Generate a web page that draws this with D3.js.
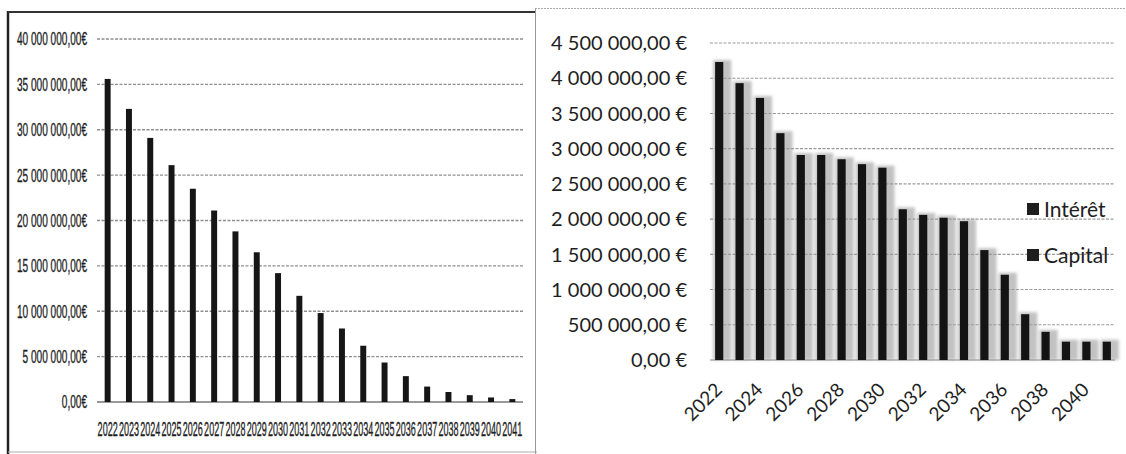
<!DOCTYPE html>
<html>
<head>
<meta charset="utf-8">
<script src="https://cdn.jsdelivr.net/npm/d3@7"></script>
<style>
  html, body { margin: 0; padding: 0; background: #fff; }
  svg { display: block; }
</style>
</head>
<body>
<svg id="chart" width="1126" height="454"></svg>
<script>
// Years of the loan schedule
const years = ["2022","2023","2024","2025","2026","2027","2028","2029","2030","2031",
               "2032","2033","2034","2035","2036","2037","2038","2039","2040","2041"];

// Left panel: outstanding capital per year (€)
const outstandingCapital = [35600000, 32300000, 29100000, 26100000, 23500000, 21100000,
                            18800000, 16500000, 14200000, 11700000, 9800000, 8100000,
                            6200000, 4350000, 2850000, 1700000, 1100000, 750000, 500000, 320000];

// Right panel: yearly repayment (€)
const yearlyRepayment = [4230000, 3930000, 3720000, 3220000, 2910000, 2910000, 2850000,
                         2780000, 2730000, 2140000, 2060000, 2020000, 1970000, 1560000,
                         1210000, 650000, 400000, 260000, 260000, 260000];

const leftTicks  = [0, 5000000, 10000000, 15000000, 20000000, 25000000, 30000000, 35000000, 40000000];
const rightTicks = [0, 500000, 1000000, 1500000, 2000000, 2500000, 3000000, 3500000, 4000000, 4500000];
const rightYearLabels = ["2022","2024","2026","2028","2030","2032","2034","2036","2038","2040"];
const legendLabels = ["Intérêt", "Capital"];

const fr = d3.formatLocale({ decimal: ",", thousands: "\u00a0", grouping: [3], currency: ["", " €"] });
const money = fr.format(",.2f");

const svg = d3.select("#chart");

const defs = svg.append("defs");
defs.append("filter").attr("id", "halo").attr("x", "-50%").attr("y", "-10%").attr("width", "200%").attr("height", "120%")
  .append("feGaussianBlur").attr("stdDeviation", 1.8);

/* ---------------- Left panel ---------------- */
const L = svg.append("g");

// frame
L.append("line").attr("x1", 8).attr("x2", 8).attr("y1", 11).attr("y2", 454).attr("stroke", "#222").attr("stroke-width", 2.5);
L.append("line").attr("x1", 8).attr("x2", 536).attr("y1", 12).attr("y2", 12).attr("stroke", "#333").attr("stroke-width", 2);
L.append("line").attr("x1", 8).attr("x2", 537).attr("y1", 452).attr("y2", 452).attr("stroke", "#aaa").attr("stroke-width", 1);

const xL = d3.scaleBand().domain(years).range([97, 523]).paddingInner(0.72).paddingOuter(0.36);
const yL = d3.scaleLinear().domain([0, 40000000]).range([402, 39]);

// gridlines
L.append("g").selectAll("line").data(leftTicks).join("line")
  .attr("x1", 97).attr("x2", 523)
  .attr("y1", d => yL(d)).attr("y2", d => yL(d))
  .attr("stroke", d => d === 0 ? "#777" : "#8f8f8f")
  .attr("stroke-width", 1.3)
  .attr("stroke-dasharray", d => d === 0 ? null : "3,1.5");

// y labels (horizontally condensed)
L.append("g").selectAll("text").data(leftTicks).join("text")
  .attr("transform", d => `translate(87,${yL(d)}) scale(0.56,1)`)
  .attr("text-anchor", "end").attr("dy", "0.36em")
  .attr("font-family", "Liberation Sans, sans-serif")
  .attr("font-size", 18).attr("fill", "#1e1e1e")
  .attr("stroke", "#1e1e1e").attr("stroke-width", 0.35)
  .text(d => money(d) + "€");

// bars
L.append("g").selectAll("rect").data(outstandingCapital).join("rect")
  .attr("x", (d, i) => xL(years[i]))
  .attr("width", xL.bandwidth())
  .attr("y", d => yL(d))
  .attr("height", d => yL(0) - yL(d))
  .attr("fill", "#161616");

// x labels (condensed, packed side by side)
L.append("g").selectAll("text").data(years).join("text")
  .attr("transform", d => `translate(${xL(d) + xL.bandwidth() / 2},436) scale(0.43,1)`)
  .attr("text-anchor", "middle")
  .attr("font-family", "Liberation Sans, sans-serif")
  .attr("font-size", 21).attr("fill", "#1e1e1e")
  .attr("stroke", "#1e1e1e").attr("stroke-width", 0.35)
  .text(d => d);

/* ---------------- Right panel ---------------- */
const R = svg.append("g");

R.append("line").attr("x1", 535.5).attr("x2", 535.5).attr("y1", 9).attr("y2", 454).attr("stroke", "#999").attr("stroke-width", 1);
R.append("line").attr("x1", 535).attr("x2", 1126).attr("y1", 8.5).attr("y2", 8.5)
  .attr("stroke", "#aaa").attr("stroke-width", 1).attr("stroke-dasharray", "2,1");

const xR = d3.scaleBand().domain(years).range([709, 1117]).paddingInner(0.6).paddingOuter(0.3);
const yR = d3.scaleLinear().domain([0, 4500000]).range([360, 43]);

// soft shadow behind the bars
R.append("g").attr("filter", "url(#halo)").selectAll("rect").data(yearlyRepayment).join("rect")
  .attr("x", (d, i) => xR(years[i]) - 2)
  .attr("width", xR.bandwidth() + 10)
  .attr("y", d => yR(d) - 2)
  .attr("height", d => yR(0) - yR(d) + 2)
  .attr("fill", "#c2c2c2");

// gridlines
R.append("g").selectAll("line").data(rightTicks).join("line")
  .attr("x1", 710).attr("x2", 1115)
  .attr("y1", d => yR(d)).attr("y2", d => yR(d))
  .attr("stroke", d => d === 0 ? "#888" : "#9a9a9a")
  .attr("stroke-width", 1.1)
  .attr("stroke-dasharray", d => d === 0 ? null : "3,1.5");

// bars
R.append("g").selectAll("rect").data(yearlyRepayment).join("rect")
  .attr("x", (d, i) => xR(years[i]))
  .attr("width", xR.bandwidth())
  .attr("y", d => yR(d))
  .attr("height", d => yR(0) - yR(d))
  .attr("fill", "#141414");

// y labels
R.append("g").selectAll("text").data(rightTicks).join("text")
  .attr("x", 687).attr("y", d => yR(d)).attr("dy", "0.36em")
  .attr("text-anchor", "end")
  .attr("font-family", "Lato, Open Sans, sans-serif")
  .attr("font-size", 20).attr("fill", "#1e1e1e")
  .text(d => money(d) + " €");

// x labels, rotated
R.append("g").selectAll("text").data(rightYearLabels).join("text")
  .attr("transform", d => `translate(${xR(d) + xR.bandwidth() / 2 + 4},391) rotate(-45)`)
  .attr("text-anchor", "end")
  .attr("font-family", "Lato, Open Sans, sans-serif")
  .attr("font-size", 19).attr("fill", "#1e1e1e")
  .text(d => d);

// legend
const lg = R.append("g").selectAll("g").data(legendLabels).join("g")
  .attr("transform", (d, i) => `translate(1027,${203 + i * 46})`);
lg.append("rect").attr("width", 12).attr("height", 12).attr("fill", "#1e1e1e");
lg.append("text").attr("x", 17).attr("y", 13.5)
  .attr("font-family", "Lato, Open Sans, sans-serif")
  .attr("font-size", 21).attr("fill", "#1e1e1e")
  .text(d => d);
</script>
</body>
</html>
